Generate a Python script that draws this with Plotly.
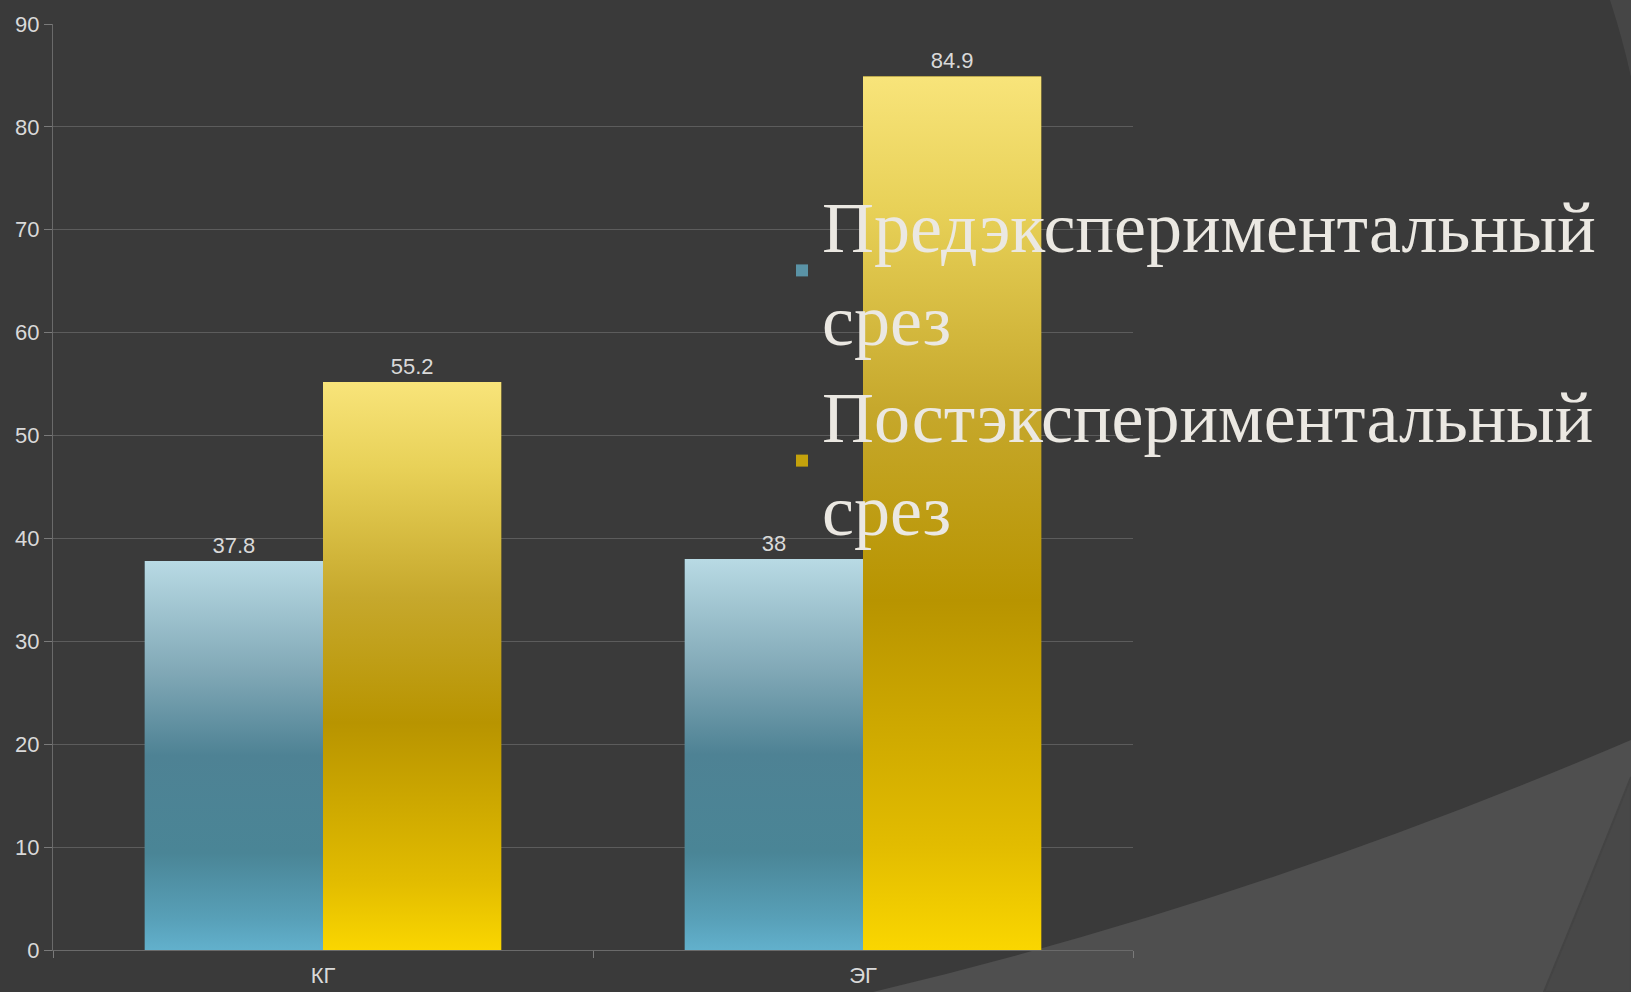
import plotly.graph_objects as go

# ---------------- data ----------------
categories = ["КГ", "ЭГ"]
series_names = ["Предэкспериментальный<br>срез", "Постэкспериментальный<br>срез"]
pre_values = [37.8, 38]
post_values = [55.2, 84.9]
y_tick_values = [0, 10, 20, 30, 40, 50, 60, 70, 80, 90]

# ---------------- styling ----------------
W, H = 1631, 992
L, R, T, B = 53, 498, 24, 42
BARGAP = 0.34
bar_w = (1 - BARGAP) / 2

BG = "#3a3a3a"
TXT = "#d9d9d9"
blue_cs = [[0, "#62b0cc"], [0.08, "#58a0b8"], [0.25, "#4a8596"], [0.5, "#4e8294"],
           [0.72, "#82a9b7"], [1, "#b8dae4"]]
gold_cs = [[0, "#fad600"], [0.12, "#e2bc00"], [0.4, "#b89400"], [0.62, "#c6a82c"],
           [0.85, "#e8d158"], [1, "#f8e47a"]]

fig = go.Figure()
label_font = dict(family="Liberation Sans, Arial", size=22, color=TXT)

fig.add_trace(go.Bar(
    x=categories, y=pre_values, name=series_names[0],
    marker=dict(color="#5a93a6", line=dict(width=0)),
    text=[f"{v:g}" for v in pre_values], textposition="outside",
    textfont=label_font, cliponaxis=False, hoverinfo="skip"))
fig.add_trace(go.Bar(
    x=categories, y=post_values, name=series_names[1],
    marker=dict(color="#c4a20c", line=dict(width=0)),
    text=[f"{v:g}" for v in post_values], textposition="outside",
    textfont=label_font, cliponaxis=False, hoverinfo="skip"))

# gradient fill overlays, built from the same values and bar geometry
for vals, offset, cs in [(pre_values, -bar_w, blue_cs), (post_values, 0.0, gold_cs)]:
    for i, v in enumerate(vals):
        x0 = i + offset
        x1 = x0 + bar_w
        fig.add_trace(go.Scatter(
            x=[x0, x1, x1, x0, x0], y=[0, 0, v, v, 0],
            xaxis="x2", yaxis="y", mode="lines", line=dict(width=0),
            fill="toself",
            fillgradient=dict(type="vertical", colorscale=cs, start=0, stop=v),
            showlegend=False, hoverinfo="skip"))


def pp(x, y):
    return (x - L) / (W - L - R), (H - B - y) / (H - T - B)


def path(points_cmds):
    out = []
    for cmd, pts in points_cmds:
        s = cmd + " " + " ".join(f"{pp(x, y)[0]:.5f},{pp(x, y)[1]:.5f}" for x, y in pts)
        out.append(s)
    return " ".join(out) + " Z"


shapes = [
    dict(type="path", xref="paper", yref="paper", layer="below", line=dict(width=0),
         fillcolor="#4f4f4f",
         path=path([("M", [(873, 992)]), ("Q", [(1252, 902), (1631, 740)]),
                    ("L", [(1631, 992)])])),
    dict(type="path", xref="paper", yref="paper", layer="below",
         line=dict(width=2, color="#444444"), fillcolor="#484848",
         path=path([("M", [(1631, 777)]), ("Q", [(1590, 880), (1544, 992)]),
                    ("L", [(1631, 992)])])),
    dict(type="path", xref="paper", yref="paper", layer="below", line=dict(width=0),
         fillcolor="#464646",
         path=path([("M", [(1610, 0)]), ("Q", [(1623, 40), (1631, 77)]),
                    ("L", [(1631, 0)])])),
]

fig.update_layout(
    width=W, height=H,
    margin=dict(l=L, r=R, t=T, b=B, pad=0, autoexpand=False),
    paper_bgcolor=BG, plot_bgcolor="rgba(0,0,0,0)",
    barmode="group", bargap=BARGAP, bargroupgap=0,
    showlegend=True,
    legend=dict(x=0.675, y=0.842, xanchor="left", yanchor="top",
                font=dict(family="Liberation Serif, Times New Roman", size=72, color="#ebe8e2"),
                bgcolor="rgba(0,0,0,0)", tracegroupgap=0),
    xaxis=dict(type="category", range=[-0.5, 1.5], showgrid=False, zeroline=False,
               showline=True, linecolor="#6a6a6a", linewidth=1, automargin=False,
               ticks="outside", tickson="boundaries", ticklen=7, tickcolor="#7a7a7a",
               ticklabelstandoff=6,
               tickfont=dict(family="Liberation Sans, Arial", size=22, color=TXT)),
    xaxis2=dict(overlaying="x", range=[-0.5, 1.5], visible=False),
    yaxis=dict(range=[0, 90], tickvals=y_tick_values, showgrid=True, gridcolor="#5c5c5c",
               gridwidth=1, zeroline=False, showline=True, linecolor="#6a6a6a",
               automargin=False,
               ticks="outside", ticklen=8, tickcolor="#7a7a7a",
               tickfont=dict(family="Liberation Sans, Arial", size=22, color=TXT)),
    shapes=shapes,
    hovermode=False,
)

fig.write_html("out.html")
